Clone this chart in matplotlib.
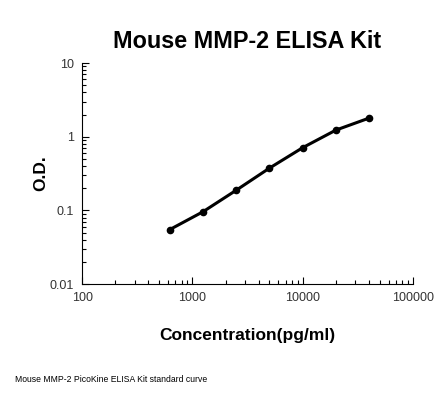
import matplotlib
matplotlib.use("Agg")
import matplotlib.pyplot as plt
from matplotlib.ticker import LogLocator, FixedLocator, FixedFormatter

# standard curve data
conc = [625, 1250, 2500, 5000, 10000, 20000, 40000]
od = [0.055, 0.096, 0.188, 0.375, 0.71, 1.23, 1.79]

x_ticks = [100, 1000, 10000, 100000]
x_labels = ["100", "1000", "10000", "100000"]
y_ticks = [0.01, 0.1, 1, 10]
y_labels = ["0.01", "0.1", "1", "10"]

plt.rcParams['font.family'] = ['Liberation Sans', 'DejaVu Sans']

fig = plt.figure(figsize=(4.46, 3.94), dpi=100)
ax = fig.add_axes([0.184, 0.279, 0.742, 0.561])

ax.plot(conc, od, color='black', linewidth=2.2, marker='o', markersize=4.5)

ax.set_xscale('log')
ax.set_yscale('log')
ax.set_xlim(100, 100000)
ax.set_ylim(0.01, 10)

ax.xaxis.set_major_locator(FixedLocator(x_ticks))
ax.xaxis.set_major_formatter(FixedFormatter(x_labels))
ax.yaxis.set_major_locator(FixedLocator(y_ticks))
ax.yaxis.set_major_formatter(FixedFormatter(y_labels))
ax.xaxis.set_minor_locator(LogLocator(base=10, subs=range(2, 10)))
ax.yaxis.set_minor_locator(LogLocator(base=10, subs=range(2, 10)))
ax.xaxis.set_minor_formatter(plt.NullFormatter())
ax.yaxis.set_minor_formatter(plt.NullFormatter())

ax.tick_params(which='major', direction='in', length=5, width=0.8, labelsize=9, colors='black', labelcolor='#333333', pad=6)
ax.tick_params(which='minor', direction='in', length=3, width=0.8)
ax.spines['top'].set_visible(False)
ax.spines['right'].set_visible(False)

fig.text(0.553, 0.895, "Mouse MMP-2 ELISA Kit", ha='center', va='center', fontsize=16.8, fontweight='bold')
ax.set_xlabel("Concentration(pg/ml)", fontsize=12.5, fontweight='bold', labelpad=17)
ax.set_ylabel("O.D.", fontsize=12.5, fontweight='bold', labelpad=1)

fig.text(0.034, 0.038, "Mouse MMP-2 PicoKine ELISA Kit standard curve", fontsize=6.2, ha='left', va='center')

fig.savefig("out.png", dpi=100)
